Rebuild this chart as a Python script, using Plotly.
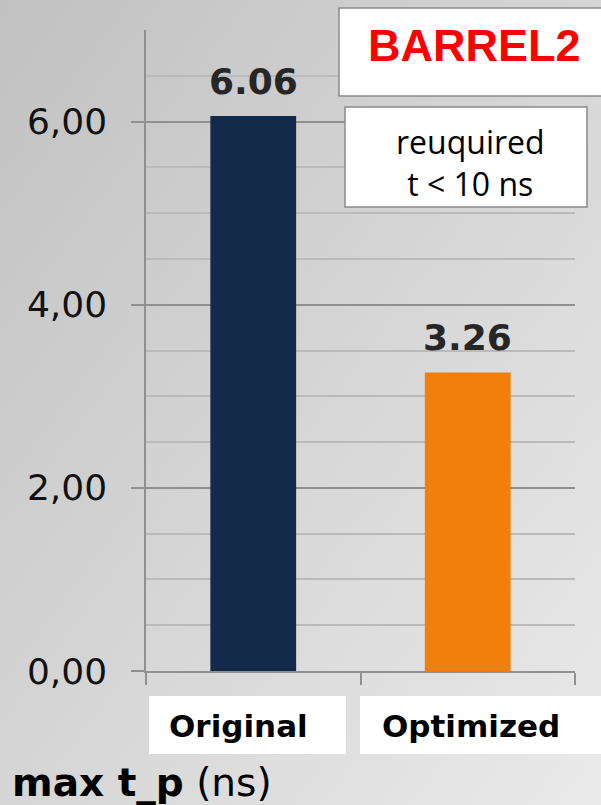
import base64
import plotly.graph_objects as go

# Data
categories = ["Original", "Optimized"]
max_tp_ns = [6.06, 3.26]
bar_colors = ["#142a4a", "#f07f0b"]
y_tick_values = [0, 2, 4, 6]

W, H = 601, 805
L, R, T, B = 146, 26, 30, 134
PW, PH = W - L - R, H - T - B


def px_x(p):
    return (p - L) / PW


def px_y(p):
    return (H - B - p) / PH


# Soft diagonal grey gradient for the page background
svg = (
    f'<svg xmlns="http://www.w3.org/2000/svg" width="{W}" height="{H}">'
    '<defs><linearGradient id="g" x1="0" y1="0" x2="1" y2="1">'
    '<stop offset="0" stop-color="#c1c1c1"/>'
    '<stop offset="1" stop-color="#eaeaea"/>'
    '</linearGradient></defs>'
    f'<rect width="{W}" height="{H}" fill="url(#g)"/></svg>'
)
bg_src = "data:image/svg+xml;base64," + base64.b64encode(svg.encode()).decode()

fig = go.Figure(
    go.Bar(
        x=categories,
        y=max_tp_ns,
        marker=dict(color=bar_colors, line=dict(width=0)),
        width=0.4,
        hoverinfo="skip",
    )
)

grid_major = "#909090"
grid_minor = "#bababa"

fig.update_layout(
    width=W,
    height=H,
    margin=dict(l=L, r=R, t=T, b=B),
    paper_bgcolor="rgba(0,0,0,0)",
    plot_bgcolor="rgba(0,0,0,0)",
    separators=",.",
    showlegend=False,
    font=dict(family="DejaVu Sans", color="#111111"),
    images=[
        dict(
            source=bg_src,
            xref="paper", yref="paper",
            x=px_x(0), y=px_y(0),
            sizex=W / PW, sizey=H / PH,
            sizing="stretch", layer="below",
            xanchor="left", yanchor="top",
        )
    ],
    title=dict(
        text="<b>max t_p</b> (ns)",
        xref="container", yref="container",
        x=12 / W, y=1 - 782 / H,
        xanchor="left", yanchor="middle",
        font=dict(family="DejaVu Sans", size=39, color="#000000"),
    ),
    xaxis=dict(
        type="category",
        range=[-0.5, 1.5],
        showgrid=False,
        showline=True, linecolor=grid_major, linewidth=1.5,
        ticks="outside", tickson="boundaries", ticklen=12,
        tickcolor=grid_major, tickwidth=1.5,
        showticklabels=False,
        fixedrange=True,
    ),
    yaxis=dict(
        range=[0, 7],
        tickvals=y_tick_values,
        tickformat=".2f",
        showgrid=True, gridcolor=grid_major, gridwidth=1.5,
        showline=True, linecolor=grid_major, linewidth=1.5,
        ticks="outside", ticklen=13, tickcolor=grid_major, tickwidth=1.5,
        ticklabelstandoff=17,
        tickfont=dict(family="DejaVu Sans", size=36, color="#111111"),
        zeroline=False,
        minor=dict(dtick=0.5, showgrid=True, gridcolor=grid_minor,
                   gridwidth=1.5, ticks=""),
        fixedrange=True,
    ),
)

shapes = []
annotations = []

# Value labels above each bar
for cat, v in zip(categories, max_tp_ns):
    annotations.append(dict(
        x=cat, y=v, xref="x", yref="y",
        text=f"<b>{v:.2f}</b>", showarrow=False,
        yanchor="bottom", yshift=12,
        font=dict(family="DejaVu Sans", size=36, color="#262626"),
    ))

# White boxes behind category names
label_boxes = [(149, 346), (360, 612)]
label_shift = [-15, 3]
for cat, (x0, x1), shift in zip(categories, label_boxes, label_shift):
    shapes.append(dict(
        type="rect", xref="paper", yref="paper",
        x0=px_x(x0), x1=px_x(x1), y0=px_y(696), y1=px_y(754),
        fillcolor="white", line=dict(width=0), layer="above",
    ))
    annotations.append(dict(
        x=cat, xref="x", y=px_y(726), yref="paper",
        text=f"<b>{cat}</b>", showarrow=False, xshift=shift,
        yanchor="middle",
        font=dict(family="DejaVu Sans", size=31, color="#000000"),
    ))

# Panel name box
shapes.append(dict(
    type="rect", xref="paper", yref="paper",
    x0=px_x(339), x1=px_x(612), y0=px_y(8), y1=px_y(96),
    fillcolor="white", line=dict(color="#8a8a8a", width=1.5), layer="above",
))
annotations.append(dict(
    x=px_x(474), y=px_y(45), xref="paper", yref="paper",
    text="<b>BARREL2</b>", showarrow=False,
    xanchor="center", yanchor="middle",
    font=dict(family="Liberation Sans", size=45, color="#ff0000"),
))

# Requirement note box
shapes.append(dict(
    type="rect", xref="paper", yref="paper",
    x0=px_x(345), x1=px_x(587), y0=px_y(107), y1=px_y(207),
    fillcolor="white", line=dict(color="#8a8a8a", width=1.5), layer="above",
))
annotations.append(dict(
    x=px_x(470), y=px_y(163), xref="paper", yref="paper",
    text="reuquired<br>t &lt; 10 ns", showarrow=False,
    xanchor="center", yanchor="middle", align="center",
    font=dict(family="Open Sans", size=32, color="#000000"),
))

fig.update_layout(shapes=shapes, annotations=annotations)

fig.write_html("out.html")
